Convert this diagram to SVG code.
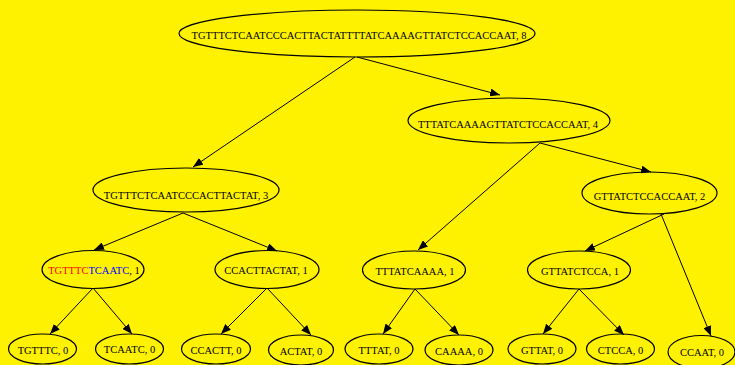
<svg xmlns="http://www.w3.org/2000/svg" width="735" height="365" viewBox="0 0 735 365">
  <style>
    .node ellipse { fill: none; stroke: #000; stroke-width: 1.2; }
    .node text { font-family: "Liberation Serif", "DejaVu Serif", serif; font-size: 10.5px; fill: #000; text-anchor: middle; dominant-baseline: central; }
    .edges line { stroke: #000; stroke-width: 1; marker-end: url(#arrow); }
    .red { fill: #ff0000; }
    .blue { fill: #0000ff; }
  </style>
  <defs>
    <marker id="arrow" markerUnits="userSpaceOnUse" markerWidth="11" markerHeight="8" refX="10" refY="4" orient="auto">
      <path d="M0,0 L10,4 L0,8 Z" fill="#000"/>
    </marker>
  </defs>

  <rect width="735" height="365" fill="#fff200"/>

  <!-- connectors -->
  <g id="edges" class="edges">
    <line x1="355" y1="57" x2="193" y2="167"/>
    <line x1="357" y1="57" x2="500" y2="95"/>
    <line x1="183" y1="213" x2="94" y2="250"/>
    <line x1="183" y1="213" x2="277" y2="251"/>
    <line x1="540" y1="143" x2="418" y2="250"/>
    <line x1="540" y1="143" x2="651" y2="172"/>
    <line x1="664" y1="214" x2="585" y2="251"/>
    <line x1="661" y1="214" x2="711" y2="336"/>
    <line x1="93" y1="288" x2="50" y2="334"/>
    <line x1="93" y1="288" x2="132" y2="334"/>
    <line x1="267" y1="288" x2="221" y2="334"/>
    <line x1="267" y1="288" x2="311" y2="335"/>
    <line x1="415" y1="289" x2="383" y2="334"/>
    <line x1="415" y1="289" x2="459" y2="335"/>
    <line x1="579" y1="289" x2="543" y2="334"/>
    <line x1="579" y1="289" x2="624" y2="335"/>
  </g>

  <!-- tree nodes -->
  <g id="root" class="node">
    <ellipse cx="357" cy="33.5" rx="178" ry="23.5"/>
    <text x="359" y="35">TGTTTCTCAATCCCACTTACTATTTTATCAAAAGTTATCTCCACCAAT, 8</text>
  </g>
  <g id="n4" class="node">
    <ellipse cx="509" cy="120.5" rx="101" ry="22.5"/>
    <text x="508" y="124">TTTATCAAAAGTTATCTCCACCAAT, 4</text>
  </g>
  <g id="n3" class="node">
    <ellipse cx="186" cy="190" rx="93" ry="22"/>
    <text x="186" y="195">TGTTTCTCAATCCCACTTACTAT, 3</text>
  </g>
  <g id="n2" class="node">
    <ellipse cx="649.5" cy="193" rx="67.5" ry="21"/>
    <text x="649.5" y="196">GTTATCTCCACCAAT, 2</text>
  </g>

  <g id="a" class="node">
    <ellipse cx="93" cy="269.5" rx="51" ry="19"/>
    <text x="94" y="270"><tspan class="red">TGTTTC</tspan><tspan class="blue">TCAATC</tspan>, 1</text>
  </g>
  <g id="b" class="node">
    <ellipse cx="267" cy="269.5" rx="52" ry="19"/>
    <text x="266" y="270">CCACTTACTAT, 1</text>
  </g>
  <g id="c" class="node">
    <ellipse cx="414" cy="270" rx="51.5" ry="19"/>
    <text x="415" y="271">TTTATCAAAA, 1</text>
  </g>
  <g id="d" class="node">
    <ellipse cx="579" cy="270" rx="51.5" ry="19"/>
    <text x="580" y="271">GTTATCTCCA, 1</text>
  </g>

  <g id="l1" class="node">
    <ellipse cx="42.5" cy="349" rx="34" ry="15"/>
    <text x="43" y="350" class="red">TGTTTC, 0</text>
  </g>
  <g id="l2" class="node">
    <ellipse cx="129.5" cy="349" rx="34" ry="15"/>
    <text x="129.5" y="349">TCAATC, 0</text>
  </g>
  <g id="l3" class="node">
    <ellipse cx="216" cy="349" rx="34.5" ry="15"/>
    <text x="216" y="350">CCACTT, 0</text>
  </g>
  <g id="l4" class="node">
    <ellipse cx="301" cy="350" rx="32.5" ry="15"/>
    <text x="301" y="351">ACTAT, 0</text>
  </g>
  <g id="l5" class="node">
    <ellipse cx="379" cy="349" rx="34" ry="15"/>
    <text x="379" y="350">TTTAT, 0</text>
  </g>
  <g id="l6" class="node">
    <ellipse cx="459" cy="350" rx="34" ry="15"/>
    <text x="459" y="351">CAAAA, 0</text>
  </g>
  <g id="l7" class="node">
    <ellipse cx="542" cy="349" rx="34" ry="15"/>
    <text x="542" y="350">GTTAT, 0</text>
  </g>
  <g id="l8" class="node">
    <ellipse cx="620.5" cy="349" rx="34" ry="15"/>
    <text x="620.5" y="350">CTCCA, 0</text>
  </g>
  <g id="l9" class="node">
    <ellipse cx="701.5" cy="352" rx="33.5" ry="16.5"/>
    <text x="702" y="352">CCAAT, 0</text>
  </g>
</svg>
